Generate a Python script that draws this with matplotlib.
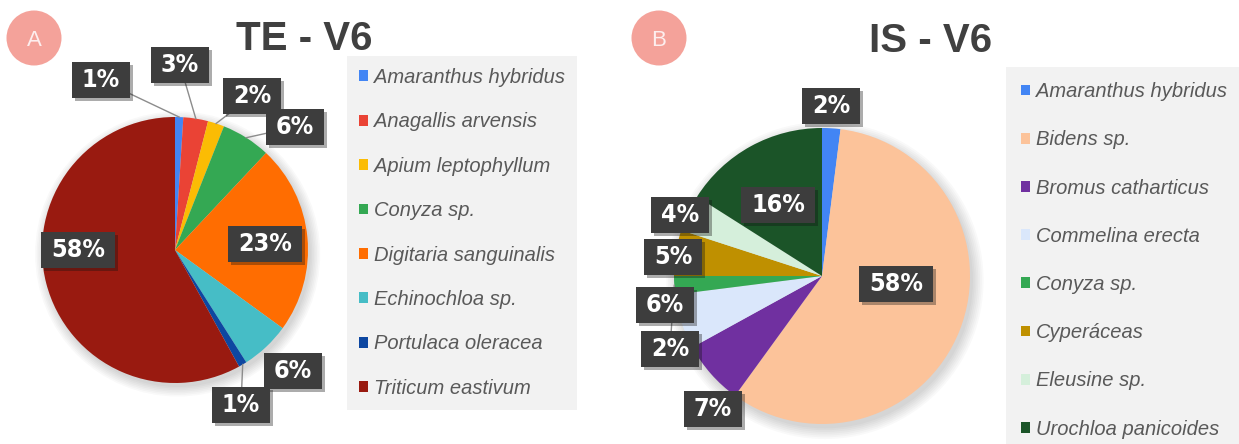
import numpy as np
import matplotlib
matplotlib.use("Agg")
import matplotlib.pyplot as plt
import matplotlib.patheffects as pe
from matplotlib import font_manager
from matplotlib.patches import Circle
from matplotlib.path import Path

# ---- data ----
te_species = ["Amaranthus hybridus", "Anagallis arvensis", "Apium leptophyllum", "Conyza sp.",
              "Digitaria sanguinalis", "Echinochloa sp.", "Portulaca oleracea", "Triticum eastivum"]
te_values = [1, 3, 2, 6, 23, 6, 1, 58]
te_colors = ["#4285f4", "#ea4335", "#fbbc04", "#34a853", "#ff6d01", "#46bdc6", "#0d47a1", "#991a10"]

is_species = ["Amaranthus hybridus", "Bidens sp.", "Bromus catharticus", "Commelina erecta",
              "Conyza sp.", "Cyperáceas", "Eleusine sp.", "Urochloa panicoides"]
is_values = [2, 58, 7, 6, 2, 5, 4, 16]
is_colors = ["#4285f4", "#fcc39a", "#7030a0", "#dae7fb", "#34a853", "#bf9000", "#d5efdb", "#1b5428"]

# label placement in pie-radius units (Excel-style hand placed labels)
te_label_pos = [(-0.556, 1.278), (0.038, 1.391), (0.579, 1.158), (0.902, 0.925),
                (0.677, 0.045), (0.887, -0.910), (0.496, -1.165), (-0.729, 0.0)]
te_leaders = [True, True, True, True, False, False, True, False]
is_label_pos = [(0.061, 1.149), (0.5, -0.054), (-0.736, -0.899), (-1.061, -0.196),
                (-1.027, -0.493), (-1.007, 0.128), (-0.959, 0.412), (-0.297, 0.480)]
is_leaders = [False, False, False, False, True, False, False, False]

W, H = 1239, 444

# data labels use a condensed bold face when one is installed
narrow = [f for f in font_manager.fontManager.ttflist
          if ("Narrow" in f.name or "Condensed" in f.name or "condensed" in str(f.stretch))
          and f.weight in ("bold", 700) and f.style == "normal"]
if narrow:
    label_font = font_manager.FontProperties(fname=narrow[0].fname, size=18)
else:
    label_font = font_manager.FontProperties(family="Roboto", weight="bold", size=16)

legend_font = font_manager.FontProperties(family="Liberation Sans", style="italic", size=14.5)


def label_box(x0, y0, width, height, mutation_size):
    # fixed height, padded width rectangle around the label text
    px = 0.4 * mutation_size
    bh = 1.45 * mutation_size
    cy = y0 + height / 2
    xa, xb = x0 - px, x0 + width + px
    ya, yb = cy - bh / 2, cy + bh / 2
    return Path([(xa, ya), (xb, ya), (xb, yb), (xa, yb), (xa, ya)], closed=True)


def draw_pie(fig, x0, x1, cx, cy, r, values, colors, label_pos, leaders):
    ax = fig.add_axes([x0 / W, 0, (x1 - x0) / W, 1])
    # soft shadow behind the pie
    for k in range(7):
        ax.add_patch(Circle((0.02, -0.03), 1 + 0.012 * k, facecolor="k", alpha=0.025,
                            lw=0, zorder=0))
    wedges, _ = ax.pie(values, colors=colors, startangle=90, counterclock=False,
                       wedgeprops=dict(linewidth=0))
    ax.set_xlim((x0 - cx) / r, (x1 - cx) / r)
    ax.set_ylim((cy - H) / r, cy / r)
    ax.axis("off")

    for w, v, (lx, ly), lead in zip(wedges, values, label_pos, leaders):
        if lead:
            ang = np.deg2rad((w.theta1 + w.theta2) / 2)
            ax.plot([np.cos(ang), lx], [np.sin(ang), ly], color="#8c8c8c", lw=1, zorder=2)
        t = ax.text(lx, ly, f"{v}%", ha="center", va="center", color="white",
                    fontproperties=label_font, zorder=4,
                    bbox=dict(boxstyle=label_box, facecolor="#3d3d3d", edgecolor="none"))
        t.get_bbox_patch().set_path_effects([pe.SimplePatchShadow(offset=(2, -2), alpha=0.35),
                                             pe.Normal()])
    return ax, wedges


fig = plt.figure(figsize=(W / 100, H / 100), dpi=100)

ax_te, te_wedges = draw_pie(fig, 0, 620, 175, 250, 133, te_values, te_colors,
                            te_label_pos, te_leaders)
ax_is, is_wedges = draw_pie(fig, 620, W, 822, 276, 148, is_values, is_colors,
                            is_label_pos, is_leaders)

# titles
fig.text(304 / W, 1 - 50 / H, "TE - V6", ha="center", va="baseline", fontsize=29,
         fontweight="bold", color="#404040", family="Liberation Sans")
fig.text(931 / W, 1 - 52 / H, "IS - V6", ha="center", va="baseline", fontsize=29,
         fontweight="bold", color="#404040", family="Liberation Sans")

# panel badges
for bx, letter in [(34, "A"), (659, "B")]:
    fig.add_artist(Circle((bx / 100, (H - 38) / 100), 0.275, transform=fig.dpi_scale_trans,
                          facecolor="#f4a29a", edgecolor="none"))
    fig.text(bx / W, 1 - 46 / H, letter, ha="center", va="baseline", fontsize=16,
             color="#fdeeee", family="Liberation Sans")

# legends
for wedges, names, anchor, spacing, bpad in [
        (te_wedges, te_species, (347, 56), 1.26, 0.6),
        (is_wedges, is_species, (1006, 67), 1.45, 0.75)]:
    leg = fig.legend(handles=wedges, labels=names, loc="upper left",
                     bbox_to_anchor=(anchor[0] / W, 1 - anchor[1] / H),
                     bbox_transform=fig.transFigure, borderaxespad=0, prop=legend_font,
                     labelcolor="#595959", handlelength=0.45, handleheight=0.45,
                     handletextpad=0.3, labelspacing=spacing, borderpad=bpad,
                     fancybox=False, framealpha=1, facecolor="#f2f2f2", edgecolor="none")

fig.savefig("out.png", dpi=100)
